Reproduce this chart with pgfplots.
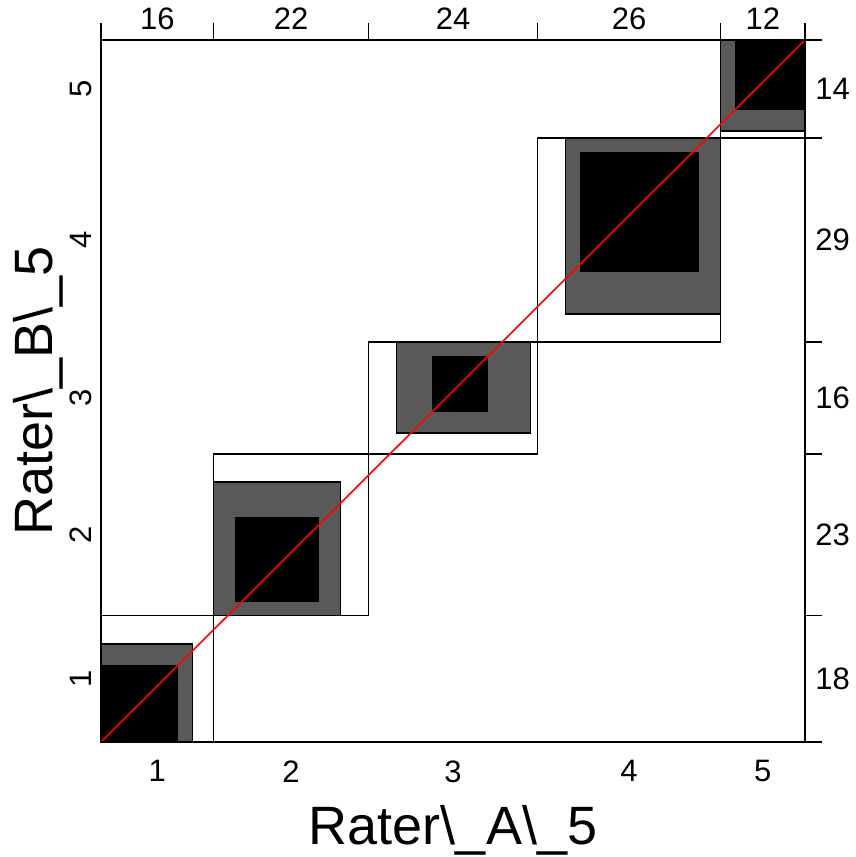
\documentclass[border=0pt]{standalone}
\usepackage{pgfplots}
\pgfplotsset{compat=1.18}
\usepackage{fontspec}
\setmainfont{Liberation Sans}
\definecolor{partgrey}{HTML}{595959}

\pgfplotsset{
  agbase/.style={
    scale only axis, width=352pt, height=351pt,
    xmin=0, xmax=100, ymin=0, ymax=100,
    clip=false, axis line style={line width=0.8pt},
    /pgf/number format/assume math mode=true,
    tick label style={font=\fontsize{15.5}{18}\selectfont, inner sep=0pt},
  },
}

\begin{document}
\begin{tikzpicture}
% main axis: rectangles, bottom/left category labels
\begin{axis}[agbase,
  xtick={8,27,50,75,94}, xticklabels={1,2,3,4,5},
  ytick={9,29.5,49,71.5,93}, yticklabels={1,2,3,4,5},
  major tick length=0pt,
  xticklabel shift=9pt,
  yticklabel style={rotate=90, anchor=south},
  yticklabel shift=4.5pt,
  xlabel={Rater\textbackslash\_A\textbackslash\_5},
  ylabel={Rater\textbackslash\_B\textbackslash\_5},
  label style={font=\fontsize{27}{30}\selectfont, inner sep=0pt},
  xlabel style={at={(axis description cs:0.5,-0.1467)}, anchor=base},
  ylabel style={at={(axis description cs:-0.0696,0.5)}, anchor=base},
]
% diagonal cells (column totals x row totals)
\addplot[fill=white, draw=black, line width=0.8pt] coordinates {(0,0) (16,0) (16,18) (0,18)} -- cycle;
\addplot[fill=white, draw=black, line width=0.8pt] coordinates {(16,18) (38,18) (38,41) (16,41)} -- cycle;
\addplot[fill=white, draw=black, line width=0.8pt] coordinates {(38,41) (62,41) (62,57) (38,57)} -- cycle;
\addplot[fill=white, draw=black, line width=0.8pt] coordinates {(62,57) (88,57) (88,86) (62,86)} -- cycle;
\addplot[fill=white, draw=black, line width=0.8pt] coordinates {(88,86) (100,86) (100,100) (88,100)} -- cycle;
% partial agreement
\addplot[fill=partgrey, draw=black, line width=0.8pt] coordinates {(0,0) (13,0) (13,14) (0,14)} -- cycle;
\addplot[fill=partgrey, draw=black, line width=0.8pt] coordinates {(16,18) (34,18) (34,37) (16,37)} -- cycle;
\addplot[fill=partgrey, draw=black, line width=0.8pt] coordinates {(42,44) (61,44) (61,57) (42,57)} -- cycle;
\addplot[fill=partgrey, draw=black, line width=0.8pt] coordinates {(66,61) (88,61) (88,86) (66,86)} -- cycle;
\addplot[fill=partgrey, draw=black, line width=0.8pt] coordinates {(88,87) (100,87) (100,100) (88,100)} -- cycle;
% exact agreement
\addplot[fill=black, draw=none] coordinates {(0,0) (11,0) (11,11) (0,11)} -- cycle;
\addplot[fill=black, draw=none] coordinates {(19,20) (31,20) (31,32) (19,32)} -- cycle;
\addplot[fill=black, draw=none] coordinates {(47,47) (55,47) (55,55) (47,55)} -- cycle;
\addplot[fill=black, draw=none] coordinates {(68,67) (85,67) (85,84) (68,84)} -- cycle;
\addplot[fill=black, draw=none] coordinates {(90,90) (100,90) (100,100) (90,100)} -- cycle;
% reference diagonal
\addplot[red, line width=0.8pt] coordinates {(0,0) (100,100)};
\path (rel axis cs:-0.1435,-0.1638) rectangle (rel axis cs:1.0724,1.057);
\end{axis}
% marginal totals on top and right
\begin{axis}[agbase,
  xtick pos=right, ytick pos=right,
  xticklabel pos=right, yticklabel pos=right,
  xtick={8,27,50,75,94}, xticklabels={16,22,24,26,12},
  ytick={9,29.5,49,71.5,93}, yticklabels={18,23,16,29,14},
  major tick length=0pt,
  xticklabel shift=5pt, yticklabel shift=5pt,
  extra x ticks={0,16,38,62,88,100}, extra x tick labels={},
  extra y ticks={0,18,41,57,86,100}, extra y tick labels={},
  extra tick style={major tick length=8.5pt, tick align=outside,
    tick style={black, line width=0.8pt}},
]
\end{axis}
\end{tikzpicture}
\end{document}
